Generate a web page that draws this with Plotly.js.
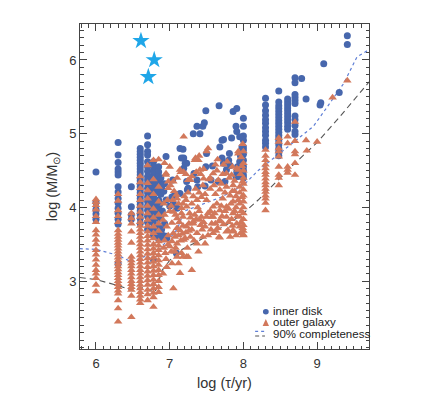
<!DOCTYPE html>
<html><head><meta charset="utf-8">
<script src="https://cdn.plot.ly/plotly-3.0.1.min.js"></script>
<style>html,body{margin:0;padding:0;background:#fff}#chart{width:440px;height:400px}</style>
</head><body><div id="chart"></div>
<script>
// ---- data: inner disk clusters (columns of equal age) ----
const innerColAge = [6.0, 6.3, 6.48, 6.6, 6.7, 6.78, 6.85, 8.0, 8.3, 8.48, 8.6, 8.7];
const innerColMass = [
  [4.48, 4.07, 3.97, 3.91, 3.84],
  [4.88, 4.71, 4.61, 4.52, 4.48, 4.44, 4.28, 4.21, 4.12, 4.06, 3.99, 3.92, 3.84, 3.77, 3.24],
  [4.28, 4.01, 3.90, 3.84],
  [4.80, 4.76, 4.72, 4.68, 4.64, 4.60, 4.56, 4.52, 4.48, 4.44, 4.40, 4.36, 4.32, 4.28, 4.24, 4.20, 4.16, 4.12, 4.08, 4.04, 4.00, 3.95, 3.90, 3.85, 3.78],
  [4.97, 4.85, 4.76, 4.71, 4.62, 4.55, 4.49, 4.42, 4.37, 4.32, 4.26, 4.20, 4.14, 4.08, 4.02, 3.96, 3.88, 3.80, 3.70],
  [4.62, 4.56, 4.50, 4.45, 4.40, 4.35, 4.30, 4.25, 4.20, 4.15, 4.10, 4.05, 4.00, 3.95, 3.90, 3.84, 3.78, 3.70, 3.62, 3.29],
  [4.55, 4.48, 4.42, 4.36, 4.31, 4.26, 4.20, 4.10, 4.02, 3.95, 3.85, 3.75, 3.65, 3.62, 3.57],
  [5.21, 5.10, 4.97, 4.91, 4.82, 4.78, 4.72, 4.64, 4.55, 4.50, 4.44, 4.40],
  [5.48, 5.39, 5.31, 5.25, 5.19, 5.14, 5.08, 5.03, 4.98, 4.91, 4.87, 4.82],
  [5.58, 5.43, 5.38, 5.34, 5.30, 5.26, 5.22, 5.18, 5.14, 5.10, 5.06, 5.02, 4.98, 4.94, 4.90, 4.85, 4.80, 4.75, 4.70],
  [5.47, 5.43, 5.39, 5.35, 5.31, 5.27, 5.23, 5.19, 5.15, 5.10, 5.06],
  [5.76, 5.69, 5.53, 5.49, 5.45, 5.41, 5.24, 5.19, 5.11, 5.03, 4.99]
];
// inner disk: scattered points [log age, log mass]
const innerPts = [
  [6.95,4.69],[7.04,4.37],[7.14,4.80],[7.19,4.67],[7.23,4.60],[7.19,4.53],[7.03,4.14],[7.05,4.05],
  [7.10,3.99],[7.14,4.19],[7.23,4.35],[7.24,4.24],[7.32,5.00],[7.41,5.00],[7.37,5.10],[7.45,5.10],
  [7.47,5.15],[7.49,5.31],[7.67,5.38],[7.50,4.73],[7.49,4.55],[7.48,4.29],[7.33,4.46],[7.37,4.37],
  [7.38,4.28],[7.56,4.37],[7.58,4.56],[7.71,4.91],[7.68,4.82],[7.73,4.92],[7.71,4.67],[7.73,4.60],
  [7.75,4.35],[7.77,4.51],[7.81,4.73],[7.80,4.64],[7.82,4.57],[7.84,4.94],[7.86,5.30],[7.91,5.34],
  [7.90,5.10],[7.91,5.03],[7.95,4.96],[7.98,4.82],[7.93,4.42],[7.91,4.48],[6.96,3.58],[6.91,3.62],
  [7.09,3.38],[6.93,4.32],[7.00,4.02],[7.07,4.17],[7.93,4.50],[7.94,4.46],[7.92,4.55],[7.95,4.62],
  [7.96,4.70],[7.90,4.42],[7.66,4.35],[7.25,4.26],[7.18,4.79],[7.16,4.67],[7.21,4.60],
  [6.88,4.40],[6.90,4.30],[6.88,4.18],[6.92,4.22],[6.87,4.05],[6.90,3.95],[6.88,3.88],[6.93,3.78],
  [6.89,3.70],[6.95,4.10],[6.88,3.60],[6.92,3.60],[6.95,3.61],
  [8.79,5.75],[8.85,5.47],[9.05,5.42],[9.04,5.39],[9.30,5.56],[9.09,5.95],[9.41,6.33],[9.41,6.21]
];
// ---- outer galaxy clusters ----
const outerColAge = [6.0, 6.3, 6.48, 6.6, 6.7, 6.78, 6.85, 8.0, 8.3, 8.48, 8.6, 8.7];
const outerColMass = [
  [4.11, 4.07, 4.03, 3.97, 3.88, 3.80, 3.69, 3.63, 3.56, 3.50, 3.42, 3.36, 3.29, 3.22, 3.15, 3.10, 3.04, 2.95, 2.86],
  [4.18, 4.09, 3.96, 3.88, 3.80, 3.69, 3.64, 3.60, 3.56, 3.52, 3.48, 3.44, 3.40, 3.36, 3.32, 3.28, 3.24, 3.20, 3.16, 3.12, 3.08, 3.04, 3.00, 2.96, 2.92, 2.87, 2.83, 2.74, 2.63, 2.45],
  [3.92, 3.85, 3.78, 3.67, 3.52, 3.33, 3.28, 3.24, 3.20, 3.15, 3.10, 3.05, 3.00, 2.96, 2.92, 2.88, 2.80, 2.51],
  [4.42, 4.34, 4.26, 4.18, 4.10, 4.02, 3.94, 3.87, 3.80, 3.75, 3.70, 3.65, 3.60, 3.55, 3.50, 3.45, 3.40, 3.35, 3.30, 3.25, 3.20, 3.15, 3.10, 3.05, 3.00, 2.95, 2.90, 2.85, 2.80, 2.75, 2.70],
  [4.57, 4.33, 4.23, 4.12, 4.02, 3.92, 3.83, 3.75, 3.67, 3.61, 3.55, 3.49, 3.43, 3.37, 3.31, 3.25, 3.19, 3.13, 3.07, 3.01, 2.95, 2.88, 2.82, 2.74],
  [4.64, 4.38, 4.18, 3.98, 3.86, 3.74, 3.65, 3.58, 3.50, 3.44, 3.38, 3.32, 3.26, 3.20, 3.14, 3.08, 3.02, 2.96, 2.90, 2.84, 2.78, 2.65],
  [4.65, 4.28, 4.08, 3.90, 3.78, 3.68, 3.54, 3.48, 3.42, 3.35, 3.28, 3.22, 3.15, 3.08, 3.00, 2.92, 2.85],
  [4.76, 4.60, 4.50, 4.40, 4.32, 4.24, 4.16, 4.08, 4.00, 3.92, 3.84, 3.76, 3.68, 3.62],
  [4.78, 4.70, 4.64, 4.58, 4.53, 4.48, 4.44, 4.39, 4.34, 4.30, 4.25, 4.21, 4.16, 4.12, 4.06, 3.96],
  [4.94, 4.89, 4.80, 4.76, 4.69, 4.55, 4.44, 4.40, 4.30],
  [4.96, 4.87, 4.55, 4.51, 4.47],
  [5.16, 4.90, 4.76, 4.72, 4.60, 4.44]
];
const outerPts = [
  [7.19,4.96],[7.52,4.80],[7.35,4.67],[7.39,4.64],[6.95,4.46],[6.98,4.35],[7.14,4.51],[7.19,4.48],
  [7.25,4.37],[7.30,4.42],[7.41,4.51],[7.46,4.39],[7.53,4.38],[7.59,4.46],[7.66,4.37],[7.77,4.46],
  [7.84,4.44],[7.91,4.53],[7.93,4.76],[7.68,4.24],[7.77,4.28],[7.86,4.30],[7.95,4.28],[7.98,4.14],
  [7.93,4.10],[7.86,4.08],[7.77,4.01],[7.68,3.96],[7.59,4.01],[7.50,4.10],[7.43,4.14],[7.37,4.10],
  [7.30,4.05],[7.23,4.01],[7.16,3.92],[7.10,3.85],[7.03,3.79],[6.96,3.74],[6.91,3.83],[7.05,3.65],
  [7.14,3.69],[7.23,3.74],[7.32,3.78],[7.41,3.83],[7.50,3.87],[7.59,3.87],[7.68,3.81],[7.77,3.87],
  [7.86,3.92],[7.95,3.87],[7.95,3.74],[7.86,3.69],[7.77,3.67],[7.68,3.59],[7.59,3.65],[7.37,3.65],
  [7.28,3.60],[7.19,3.56],[7.10,3.51],[7.00,3.47],[6.94,3.38],[7.03,3.24],[7.10,3.33],[7.16,3.38],
  [7.23,3.33],[7.30,3.15],[7.05,2.90],[6.91,3.10],[6.96,3.19],[7.05,3.94],[7.10,3.72],[7.18,3.87],
  [7.18,3.75],[7.32,3.81],[7.34,3.90],[7.43,3.87],[7.48,3.74],[7.57,3.87],[7.68,3.83],[7.79,3.69],
  [7.86,3.67],[7.91,3.78],[8.00,3.63],[7.07,3.60],[7.21,3.58],[7.37,3.51],[7.48,3.51],[7.07,3.40],
  [7.18,3.33],[7.25,3.33],[7.12,3.24],[7.39,3.40],[7.14,3.11],[7.67,3.60],[7.50,4.76],[7.34,4.64],
  [7.16,4.48],[7.46,4.52],[7.55,4.40],[7.28,4.37],[7.05,4.35],[7.93,4.51],[7.93,4.73],[6.95,4.44],
  [6.98,4.26],[7.09,4.17],[7.15,4.48],[7.16,3.99],[7.25,4.20],[7.35,4.25],[7.45,4.30],[7.62,4.18],
  [7.72,4.12],[7.82,4.16],[7.88,4.22],[7.40,3.95],[7.55,3.95],[7.65,3.72],[7.00,3.95],[6.92,4.05],
  [7.27,3.92],[7.12,4.05],[7.44,3.70],[7.52,3.62],[6.93,3.55],[6.98,3.62],[7.03,3.54],[6.95,3.30],
  [7.82,3.60],[7.90,3.62],[7.96,3.65],[7.73,4.58],[7.62,4.58],[7.81,4.40],[7.88,4.36],[7.06,4.22],
  [7.20,4.15],[7.38,4.00],[7.95,4.05],[7.90,4.00],[7.84,3.84],[7.73,3.77],[7.62,3.78],[7.30,3.70],
  [7.24,3.45],[7.15,3.55],
  [6.97,4.10],[7.02,4.02],[7.08,3.90],[7.13,3.80],[7.17,3.64],[7.22,3.66],[7.26,3.78],
  [7.28,3.86],[7.36,3.84],[7.42,3.76],[7.46,3.80],[7.52,3.92],[7.57,3.78],[7.61,3.92],[7.64,4.05],
  [7.70,4.02],[7.75,3.95],[7.80,3.98],[7.83,4.05],[7.88,3.95],[7.92,3.88],[7.97,3.80],[7.99,3.72],
  [7.97,3.95],[7.85,3.75],[7.80,3.80],[7.71,3.88],[7.63,3.68],[7.56,3.70],[7.45,3.60],[7.33,3.55],
  [7.26,3.68],[7.12,3.62],[7.08,3.45],[7.02,3.40],[6.98,3.50],[6.92,3.45],[6.93,3.90],
  [7.04,4.10],[7.10,4.12],[7.18,4.05],[7.22,4.10],[7.32,4.15],[7.40,4.20],[7.48,4.18],
  [7.55,4.25],[7.60,4.30],[7.70,4.32],[7.75,4.20],[7.85,4.22],[7.90,4.15],[7.95,4.20],[7.99,4.35],
  [7.96,4.45],[7.98,4.56],[7.85,4.55],[7.72,4.45],[7.64,4.50],[7.42,4.45],[7.36,4.48],[7.22,4.45],
  [7.10,4.40],[7.01,4.30],[6.93,4.60],[7.00,4.55],[7.40,4.70],[7.65,4.65],
  [7.78,4.62],[7.97,4.68],[7.99,4.86],
  [8.85,4.91],[8.86,4.77],[9.00,4.89],[9.21,5.49],[9.41,5.72]
];
// ---- stars ----
const starAge = [6.61, 6.79, 6.71];
const starMass = [6.26, 6.00, 5.77];
// ---- completeness curves ----
const dotAge  = [5.78, 6.0, 6.3, 6.48, 6.6, 6.7, 6.78, 6.9, 7.0, 7.1, 7.2, 7.5, 7.7, 8.0, 8.2, 8.6, 8.95, 9.17, 9.36, 9.54, 9.72];
const dotMass = [3.44, 3.43, 3.35, 3.26, 3.31, 3.35, 3.24, 3.48, 3.58, 3.70, 3.95, 4.06, 4.14, 4.30, 4.50, 4.82, 5.10, 5.41, 5.68, 6.04, 6.15];
const dashAge  = [5.78, 6.0, 6.3, 6.5, 6.6, 6.8, 6.9, 7.0, 7.15, 7.4, 7.6, 7.8, 8.0, 8.2, 8.5, 8.7, 9.0, 9.3, 9.72];
const dashMass = [3.05, 3.02, 2.94, 2.87, 2.92, 2.85, 3.15, 3.28, 3.42, 3.55, 3.67, 3.78, 3.92, 4.10, 4.40, 4.60, 4.88, 5.22, 5.72];
const legendLabels = ['inner disk', 'outer galaxy', '90% completeness'];

function flat(ages, masses, pts) {
  const x = [], y = [];
  ages.forEach((a, i) => masses[i].forEach(m => { x.push(a); y.push(m); }));
  pts.forEach(p => { x.push(p[0]); y.push(p[1]); });
  return {x, y};
}
const inner = flat(innerColAge, innerColMass, innerPts);
const outer = flat(outerColAge, outerColMass, outerPts);

const BLUE = '#4767ad', ORANGE = '#d2785b', STAR = '#1fa6e8', DOT = '#5f7fd6', DASH = '#555555';
const traces = [
  {x: dotAge, y: dotMass, mode: 'lines', line: {color: DOT, width: 1.2, dash: 'dot'}, hoverinfo: 'skip'},
  {x: dashAge, y: dashMass, mode: 'lines', line: {color: DASH, width: 1.1, dash: '6px,4px'}, hoverinfo: 'skip'},
  {x: inner.x, y: inner.y, mode: 'markers', marker: {symbol: 'circle', size: 7, color: BLUE}},
  {x: outer.x, y: outer.y, mode: 'markers', marker: {symbol: 'triangle-up', size: 7.5, color: ORANGE}},
  {x: starAge, y: starMass, mode: 'markers', marker: {symbol: 'star', size: 13, color: STAR, line: {width: 0}}}
];

const AX = '#444';
const xL = 0.664;
const layout = {
  width: 440, height: 400,
  margin: {l: 80, r: 71, t: 24, b: 51},
  paper_bgcolor: '#fff', plot_bgcolor: '#fff',
  showlegend: false,
  font: {family: 'Liberation Sans, Arial, sans-serif', color: '#333', size: 12},
  xaxis: {
    range: [5.783, 9.704], tickvals: [6, 7, 8, 9], ticktext: ['6', '7', '8', '9'],
    ticks: 'inside', ticklen: 7, tickcolor: AX, tickwidth: 1, ticklabelstandoff: 2,
    showline: true, linecolor: AX, linewidth: 1, mirror: 'ticks',
    showgrid: false, zeroline: false,
    minor: {dtick: 0.1, ticks: 'inside', ticklen: 3.5, tickcolor: AX, showgrid: false},
    tickfont: {size: 13, color: '#333'},
    title: {text: 'log (τ/yr)', font: {size: 14.5, color: '#333'}, standoff: 8}
  },
  yaxis: {
    range: [2.079, 6.488], tickvals: [3, 4, 5, 6], ticktext: ['3', '4', '5', '6'],
    ticks: 'inside', ticklen: 7, tickcolor: AX, tickwidth: 1, ticklabelstandoff: 0,
    showline: true, linecolor: AX, linewidth: 1, mirror: 'ticks',
    showgrid: false, zeroline: false,
    minor: {dtick: 0.1, ticks: 'inside', ticklen: 3.5, tickcolor: AX, showgrid: false},
    tickfont: {size: 13, color: '#333'},
    title: {text: 'log (M/M<sub>⊙</sub>)', font: {size: 14.5, color: '#333'}, standoff: 8}
  },
  shapes: [
    {type: 'circle', xref: 'paper', yref: 'paper', x0: 0.633, x1: 0.653, y0: 0.106, y1: 0.123, fillcolor: BLUE, line: {width: 0}},
    {type: 'path', xref: 'paper', yref: 'paper', path: 'M 0.632 0.071 L 0.654 0.071 L 0.643 0.092 Z', fillcolor: ORANGE, line: {width: 0}},
    {type: 'line', xref: 'paper', yref: 'paper', x0: 0.606, x1: 0.640, y0: 0.054, y1: 0.054, line: {color: DOT, width: 1.2, dash: 'dot'}},
    {type: 'line', xref: 'paper', yref: 'paper', x0: 0.606, x1: 0.640, y0: 0.040, y1: 0.040, line: {color: DASH, width: 1.1, dash: '4px,3px'}}
  ],
  annotations: [
    {xref: 'paper', yref: 'paper', x: xL, y: 0.116, text: legendLabels[0], showarrow: false, xanchor: 'left', yanchor: 'middle', borderpad: 0, font: {size: 11.5, color: '#222'}},
    {xref: 'paper', yref: 'paper', x: xL, y: 0.082, text: legendLabels[1], showarrow: false, xanchor: 'left', yanchor: 'middle', borderpad: 0, font: {size: 11.5, color: '#222'}},
    {xref: 'paper', yref: 'paper', x: xL, y: 0.047, text: legendLabels[2], showarrow: false, xanchor: 'left', yanchor: 'middle', borderpad: 0, font: {size: 11.5, color: '#222'}}
  ]
};
Plotly.newPlot('chart', traces, layout, {staticPlot: true, displayModeBar: false});
</script></body></html>
